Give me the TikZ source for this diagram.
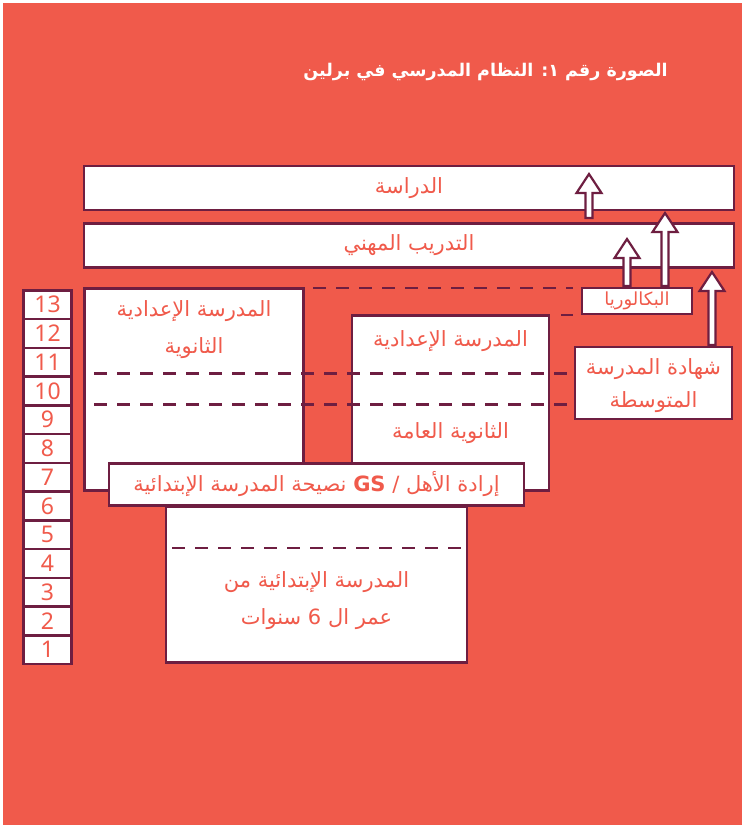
\documentclass[tikz,border=0pt]{standalone}
\usepackage{fontspec}
\setmainfont{Noto Sans}
\newfontfamily\arabicfont[Script=Arabic]{DejaVu Sans}
\newfontfamily\gsfont{DejaVu Sans Bold}
\TeXXeTstate=1
\definecolor{coral}{RGB}{240,90,75}
\definecolor{maroon}{RGB}{110,30,65}
\newcommand{\ar}[1]{{\arabicfont\beginR #1\endR}}
\newcommand{\hollowup}[3]{%
  \filldraw[arrowbody] (#1-3.5,#3) -- (#1-3.5,#2+19) -- (#1-12.5,#2+19) -- (#1,#2)
    -- (#1+12.5,#2+19) -- (#1+3.5,#2+19) -- (#1+3.5,#3) -- cycle;}
\begin{document}
\begin{tikzpicture}[x=1pt,y=-1pt,
  box/.style={draw=maroon,line width=2.5pt,fill=white,text=coral,inner sep=0pt,outer sep=0pt,
    align=center,font=\fontsize{21}{26}\selectfont},
  cell/.style={draw=maroon,line width=2.5pt,fill=white,text=coral,inner sep=0pt,
    minimum width=48pt,minimum height=28.75pt,font=\fontsize{23}{24}\selectfont},
  lbl/.style={text=coral,inner sep=0pt,align=center,font=\fontsize{21}{26}\selectfont},
  dashline/.style={draw=maroon,line width=2.5pt,dash pattern=on 13pt off 10pt},
  arrowbody/.style={fill=white,draw=maroon,line width=2.2pt,line join=miter}]
\useasboundingbox (0,0) rectangle (742,825);
\fill[coral] (3,3) rectangle (742,825);
% title
\node[anchor=east,text=white,inner sep=0pt,font=\fontsize{17.5}{22}\selectfont\bfseries] (title) at (668,72)
  {\ar{الصورة رقم ١: النظام المدرسي في برلين}};
% top boxes
\node[box,minimum width=650pt,minimum height=44pt] (study) at (409,188) {\ar{الدراسة}};
\node[box,minimum width=650pt,minimum height=44pt] (voc) at (409,245.5) {\ar{التدريب المهني}};
% grade column
\foreach \n in {1,...,13}{
  \node[cell] (g\n) at (47.5,{664-(\n-0.5)*28.75}) {\n};
}
% dashed line at grade 13 level
\coordinate (d13a) at (313,288);
\coordinate (d13b) at (573,288);
\draw[dashline] (d13a) -- (d13b);
\coordinate (d12a) at (561,315);
\coordinate (d12b) at (573,315);
\draw[dashline] (d12a) -- (d12b);
% left box
\node[box,minimum width=219pt,minimum height=202pt] (gym) at (194,389.5) {};
\node[lbl] (gymt1) at (194,311) {\ar{المدرسة الإعدادية}};
\node[lbl] (gymt2) at (194,348) {\ar{الثانوية}};
% middle box
\node[box,minimum width=197pt,minimum height=175pt] (iss) at (450.5,403) {};
\node[lbl] (isst1) at (450.5,341) {\ar{المدرسة الإعدادية}};
\node[lbl] (isst2) at (450.5,433) {\ar{الثانوية العامة}};
% dashed lines at grades 11/10
\coordinate (d11a) at (94,373.5);
\coordinate (d11b) at (571,373.5);
\coordinate (d10a) at (94,404.5);
\coordinate (d10b) at (571,404.5);
\draw[dashline] (d11a) -- (d11b);
\draw[dashline] (d10a) -- (d10b);
% baccalaureate
\node[box,minimum width=110pt,minimum height=26pt,font=\fontsize{18}{20}\selectfont] (bac) at (637,301) {\ar{البكالوريا}};
% MSA
\node[box,minimum width=157pt,minimum height=72pt] (msa) at (653.5,383) {};
\node[lbl] (msat1) at (653.5,369) {\ar{شهادة المدرسة}};
\node[lbl] (msat2) at (653.5,402) {\ar{المتوسطة}};
% primary school
\node[box,minimum width=301pt,minimum height=156pt] (prim) at (316.5,584.5) {};
\coordinate (dpa) at (172,548);
\coordinate (dpb) at (462,548);
\draw[dashline] (dpa) -- (dpb);
\node[lbl] (primt1) at (316.5,582) {\ar{المدرسة الإبتدائية من}};
\node[lbl] (primt2) at (316.5,619) {\ar{عمر ال 6 سنوات}};
% GS box
\node[box,minimum width=415pt,minimum height=42pt] (gs) at (316.5,484.5)
  {\ar{إرادة الأهل / {\gsfont GS} نصيحة المدرسة الإبتدائية}};
% arrows
\hollowup{589}{174}{218}
\hollowup{627}{239}{286}
\hollowup{665}{213}{286}
\hollowup{712}{272}{345}
\end{tikzpicture}
\end{document}
